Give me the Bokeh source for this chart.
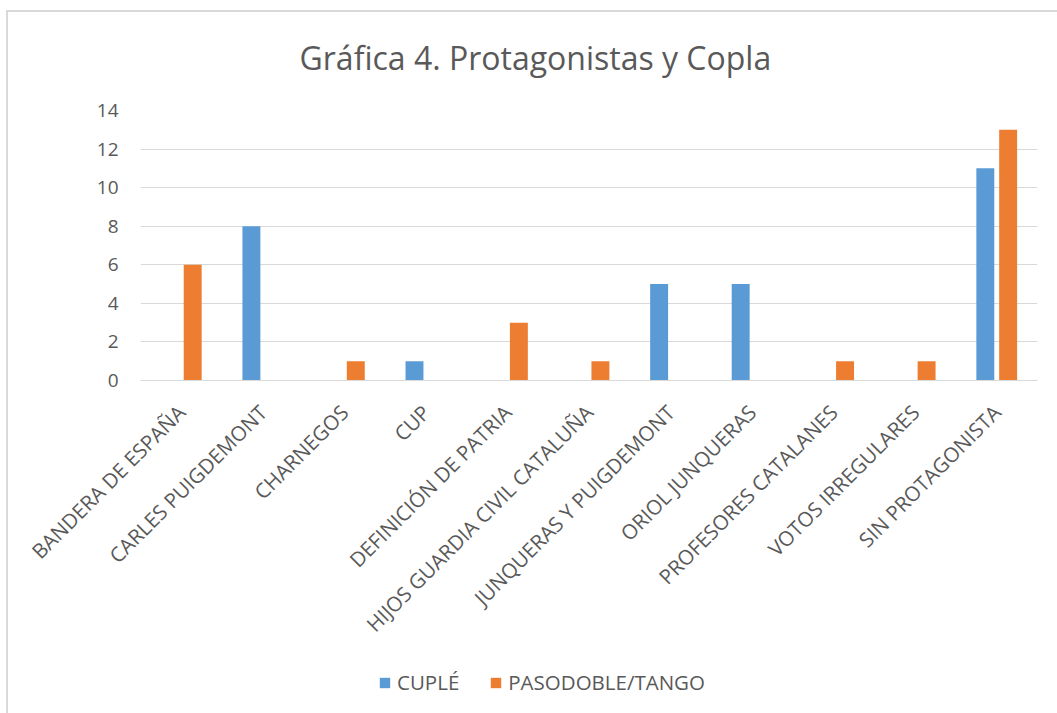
from math import pi
from bokeh.plotting import figure
from bokeh.layouts import column
from bokeh.models import ColumnDataSource, FactorRange, Range1d, Legend, LegendItem, FixedTicker
from bokeh.embed import file_html
from bokeh.resources import INLINE
from bokeh.transform import dodge

categories = [
    "BANDERA DE ESPAÑA",
    "CARLES PUIGDEMONT",
    "CHARNEGOS",
    "CUP",
    "DEFINICIÓN DE PATRIA",
    "HIJOS GUARDIA CIVIL CATALUÑA",
    "JUNQUERAS Y PUIGDEMONT",
    "ORIOL JUNQUERAS",
    "PROFESORES CATALANES",
    "VOTOS IRREGULARES",
    "SIN PROTAGONISTA",
]
cuple = [0, 8, 0, 1, 0, 0, 5, 5, 0, 0, 11]
pasodoble_tango = [6, 0, 1, 0, 3, 1, 0, 0, 1, 1, 13]
y_ticks = [0, 2, 4, 6, 8, 10, 12, 14]
series_names = ["CUPLÉ", "PASODOBLE/TANGO"]
title_text = "Gráfica 4. Protagonistas y Copla"

FONT = "Open Sans"
TXT = "#595959"
GRID = "#d9d9d9"
BLUE = "#5B9BD5"
ORANGE = "#ED7D31"

src = ColumnDataSource(dict(cat=categories, cuple=cuple, paso=pasodoble_tango))

p = figure(
    x_range=FactorRange(*categories),
    y_range=Range1d(0, 14),
    width=1057, height=655,
    output_backend="svg", toolbar_location=None,
    min_border_left=140, min_border_right=20,
    min_border_top=110, min_border_bottom=275,
)
p.border_fill_color = None
p.background_fill_color = None

r1 = p.vbar(x=dodge("cat", -0.14, range=p.x_range), top="cuple", width=0.22,
            source=src, fill_color=BLUE, line_color=None)
r2 = p.vbar(x=dodge("cat", 0.14, range=p.x_range), top="paso", width=0.22,
            source=src, fill_color=ORANGE, line_color=None)

p.title.text = title_text
p.title.text_font = FONT
p.title.text_font_size = "32px"
p.title.text_font_style = "normal"
p.title.text_color = TXT
p.title.align = "left"
p.title.offset = 159
p.title.standoff = 63

p.outline_line_color = None
p.xgrid.grid_line_color = None
p.ygrid.grid_line_color = GRID
p.ygrid.grid_line_width = 1

p.yaxis.ticker = FixedTicker(ticks=y_ticks)
p.yaxis.axis_line_color = None
p.yaxis.major_tick_line_color = None
p.yaxis.minor_tick_line_color = None
p.yaxis.major_label_standoff = 16
p.yaxis.major_label_text_font = FONT
p.yaxis.major_label_text_font_size = "19px"
p.yaxis.major_label_text_color = TXT

p.xaxis.axis_line_color = GRID
p.xaxis.major_tick_line_color = None
p.xaxis.minor_tick_line_color = None
p.xaxis.major_label_orientation = pi / 4
p.xaxis.major_label_standoff = 22
p.xaxis.major_label_text_font = FONT
p.xaxis.major_label_text_font_size = "20.5px"
p.xaxis.major_label_text_color = TXT

# legend strip below the chart (bars drawn outside its visible y range)
pl = figure(
    width=1057, height=58, x_range=p.x_range, y_range=Range1d(100, 101),
    output_backend="svg", toolbar_location=None,
    min_border_left=0, min_border_right=0, min_border_top=0, min_border_bottom=0,
)
pl.border_fill_color = None
pl.background_fill_color = None
pl.axis.visible = False
pl.grid.visible = False
pl.outline_line_color = None
l1 = pl.vbar(x=dodge("cat", -0.14, range=p.x_range), top="cuple", width=0.22,
             source=src, fill_color=BLUE, line_color=None)
l2 = pl.vbar(x=dodge("cat", 0.14, range=p.x_range), top="paso", width=0.22,
             source=src, fill_color=ORANGE, line_color=None)

legend = Legend(
    items=[LegendItem(label=series_names[0], renderers=[l1]),
           LegendItem(label=series_names[1], renderers=[l2])],
    location=(238, 17), orientation="horizontal",
    glyph_width=13, glyph_height=13, spacing=30, label_standoff=6,
    padding=0, margin=0, border_line_color=None, background_fill_alpha=0,
    label_text_font=FONT, label_text_font_size="20.5px", label_text_color=TXT,
)
pl.add_layout(legend)

frame_bg = (
    "linear-gradient(#d9d9d9, #d9d9d9) left 6px top 10px / 2px calc(100% - 10px) no-repeat, "
    "linear-gradient(#d9d9d9, #d9d9d9) left 6px top 10px / calc(100% - 6px) 2px no-repeat, "
    "#ffffff"
)
layout = column(p, pl, spacing=0, styles={"background": frame_bg})
open("out.html", "w").write(file_html(layout, INLINE))
